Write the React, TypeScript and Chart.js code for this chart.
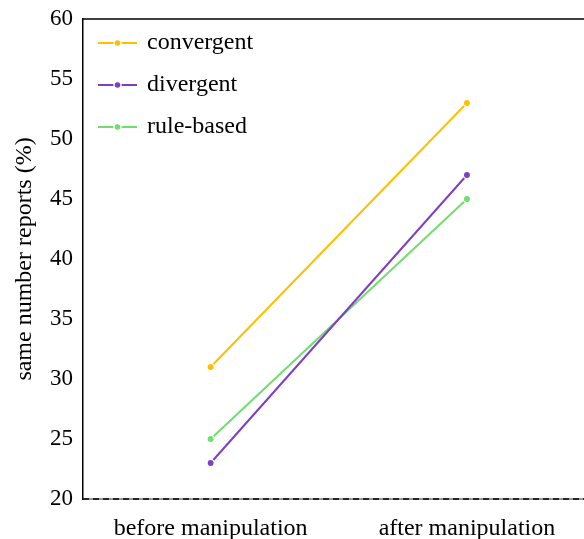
import React, { useEffect, useRef } from "react";
import { Chart, registerables } from "chart.js";

Chart.register(...registerables);

const categories = ["before manipulation", "after manipulation"];
const seriesNames = ["convergent", "divergent", "rule-based"];
const convergent = [31, 53];
const divergent = [23, 47];
const ruleBased = [25, 45];
const seriesColors = ["#FFBF00", "#7E3FC2", "#70DD6E"];
const yTicks = [20, 25, 30, 35, 40, 45, 50, 55, 60];

const FONT = "'Liberation Serif', 'DejaVu Serif', serif";

const framePlugin = {
  id: "frame",
  afterDraw(chart: any) {
    const { ctx, chartArea } = chart;
    const { left, top, bottom } = chartArea;
    ctx.save();
    ctx.strokeStyle = "#000";
    ctx.lineWidth = 1.5;
    ctx.beginPath();
    ctx.moveTo(left, top);
    ctx.lineTo(chart.width, top);
    ctx.stroke();
    ctx.strokeStyle = "#777";
    ctx.beginPath();
    ctx.moveTo(left, bottom);
    ctx.lineTo(chart.width, bottom);
    ctx.stroke();
    ctx.strokeStyle = "#000";
    ctx.setLineDash([6, 4]);
    ctx.beginPath();
    ctx.moveTo(left, bottom);
    ctx.lineTo(chart.width, bottom);
    ctx.stroke();
    ctx.setLineDash([]);
    const ds = chart.data.datasets;
    ds.forEach((d: any, i: number) => {
      const y = top + 24 + i * 42;
      const x0 = left + 15;
      const x1 = left + 54;
      ctx.strokeStyle = d.borderColor;
      ctx.lineWidth = 2;
      ctx.beginPath();
      ctx.moveTo(x0, y);
      ctx.lineTo(x1, y);
      ctx.stroke();
      const cx = (x0 + x1) / 2;
      ctx.fillStyle = "#fff";
      ctx.beginPath();
      ctx.arc(cx, y, 4.2, 0, Math.PI * 2);
      ctx.fill();
      ctx.fillStyle = d.borderColor;
      ctx.beginPath();
      ctx.arc(cx, y, 2.8, 0, Math.PI * 2);
      ctx.fill();
      ctx.fillStyle = "#000";
      ctx.font = `24px ${FONT}`;
      ctx.textBaseline = "middle";
      ctx.textAlign = "left";
      ctx.fillText(d.label, x1 + 10, y);
    });
    ctx.restore();
  },
};

export default function App() {
  const ref = useRef<HTMLCanvasElement | null>(null);

  useEffect(() => {
    document.body.style.margin = "0";
    if (!ref.current) return;
    const values = [convergent, divergent, ruleBased];
    const chart = new Chart(ref.current, {
      type: "line",
      data: {
        datasets: values.map((v, i) => ({
          label: seriesNames[i],
          data: v.map((y, j) => ({ x: j, y })),
          borderColor: seriesColors[i],
          backgroundColor: seriesColors[i],
          pointBackgroundColor: seriesColors[i],
          pointBorderColor: "#fff",
          pointBorderWidth: 1.3,
          pointRadius: 3.6,
          borderWidth: 2,
          fill: false,
        })),
      },
      options: {
        animation: false,
        responsive: false,
        maintainAspectRatio: false,
        layout: { padding: { top: 19, right: 0, left: 0, bottom: 0 } },
        plugins: {
          legend: { display: false },
          tooltip: { enabled: false },
        },
        scales: {
          x: {
            type: "linear",
            min: -0.498,
            max: 1.436,
            grid: { display: false },
            border: { display: false },
            afterBuildTicks: (scale: any) => {
              scale.ticks = categories.map((_, i) => ({ value: i }));
            },
            afterFit: (scale: any) => {
              scale.height = 40;
            },
            ticks: {
              color: "#000",
              font: { family: FONT, size: 24 },
              padding: 7,
              maxRotation: 0,
              autoSkip: false,
              callback: (v: any) => categories[v as number] ?? "",
            },
          },
          y: {
            min: 20,
            max: 60,
            grid: { display: false },
            border: { display: true, color: "#000", width: 1.5 },
            afterBuildTicks: (scale: any) => {
              scale.ticks = yTicks.map((v) => ({ value: v }));
            },
            afterFit: (scale: any) => {
              scale.width = 83;
            },
            title: {
              display: true,
              text: "same number reports (%)",
              color: "#000",
              font: { family: FONT, size: 24 },
              padding: { top: 10, bottom: 4 },
            },
            ticks: {
              color: "#000",
              font: { family: FONT, size: 23 },
              padding: 2,
            },
          },
        },
      },
      plugins: [framePlugin],
    });
    return () => chart.destroy();
  }, []);

  return (
    <div style={{ width: 584, height: 539 }}>
      <canvas ref={ref} width={584} height={539} style={{ display: "block" }} />
    </div>
  );
}
